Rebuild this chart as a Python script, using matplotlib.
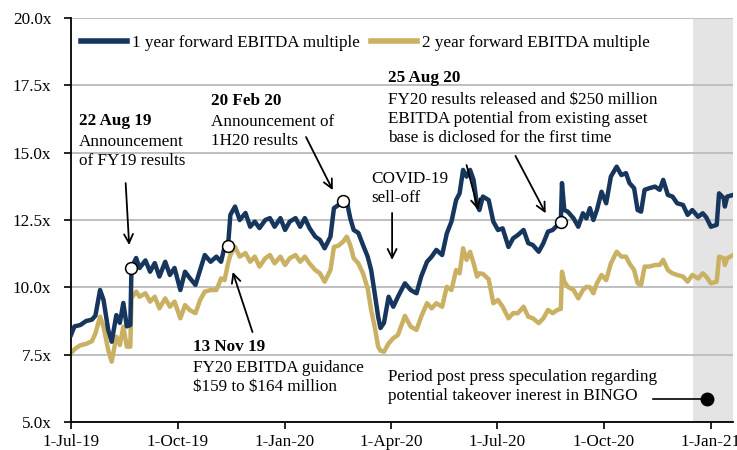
import datetime as dt

import matplotlib
matplotlib.use('Agg')
import matplotlib.pyplot as plt
import matplotlib.dates as mdates
from matplotlib.ticker import FixedLocator, FuncFormatter

plt.rcParams['font.family'] = ['Liberation Serif', 'DejaVu Serif']

# Days since 1-Jul-19
START = dt.date(2019, 7, 1)
day_offsets = [
    0, 3, 8, 13, 18, 21, 25, 28, 32, 35, 39, 42, 45, 48, 51, 52, 56, 59, 64, 68,
    72, 76, 81, 85, 89, 94, 98, 102, 107, 111, 115, 120, 125, 129, 132, 135, 137,
    141, 145, 150, 154, 158, 162, 167, 171, 175, 180, 184, 188, 193, 197, 201,
    205, 210, 214, 218, 223, 226, 230, 234, 237, 240, 243, 247, 251, 255, 258,
    261, 264, 266, 269, 273, 277, 281, 287, 292, 297, 301, 306, 310, 314, 319,
    323, 327, 331, 334, 337, 340, 343, 346, 349, 351, 354, 359, 363, 367, 371,
    376, 380, 384, 389, 393, 397, 402, 406, 410, 414, 418, 421, 422, 424, 427,
    432, 436, 440, 443, 446, 449, 452, 456, 460, 464, 469, 473, 477, 480, 484,
    487, 490, 493, 497, 502, 506, 509, 513, 517, 521, 526, 530, 534, 539, 543,
    546, 550, 555, 557, 561, 562, 564, 569,
]

one_year = [
    8.23, 8.55, 8.60, 8.75, 8.80, 8.95, 9.90, 9.53, 8.42, 7.98, 8.97, 8.68, 9.42,
    8.55, 8.60, 10.72, 11.09, 10.72, 11.00, 10.58, 10.90, 10.40, 10.95, 10.46,
    10.72, 9.90, 10.58, 10.35, 10.09, 10.64, 11.20, 10.95, 11.14, 10.95, 11.50,
    11.54, 12.69, 13.00, 12.50, 12.76, 12.25, 12.44, 12.20, 12.50, 12.57, 12.25,
    12.57, 12.13, 12.44, 12.57, 12.25, 12.57, 12.20, 11.88, 11.76, 11.45, 11.88,
    12.94, 13.06, 13.22, 13.20, 12.57, 12.13, 12.02, 11.57, 11.14, 10.64, 9.79,
    8.91, 8.49, 8.68, 9.65, 9.28, 9.65, 10.15, 9.90, 9.78, 10.40, 10.95, 11.14,
    11.39, 11.20, 12.00, 12.44, 13.24, 13.49, 14.36, 14.11, 14.36, 13.99, 13.06,
    12.87, 13.37, 13.24, 12.44, 12.13, 12.19, 11.50, 11.82, 11.94, 12.13, 11.64,
    11.57, 11.32, 11.64, 12.07, 12.13, 12.30, 12.44, 13.87, 12.87, 12.81, 12.56,
    12.25, 12.75, 12.56, 12.94, 12.50, 12.87, 13.55, 13.12, 14.11, 14.48, 14.17,
    14.24, 13.87, 13.68, 12.87, 12.81, 13.62, 13.68, 13.74, 13.62, 13.99, 13.43,
    13.37, 13.12, 13.06, 12.69, 12.87, 12.62, 12.75, 12.60, 12.25, 12.32, 13.49,
    13.31, 13.00, 13.37, 13.43,
]

two_year = [
    7.55, 7.70, 7.85, 7.90, 8.00, 8.29, 8.91, 8.54, 7.67, 7.24, 8.17, 7.86, 8.54,
    7.80, 7.80, 9.60, 9.84, 9.65, 9.78, 9.47, 9.65, 9.22, 9.59, 9.28, 9.47, 8.85,
    9.34, 9.16, 9.04, 9.53, 9.84, 9.90, 9.90, 10.33, 10.27, 10.89, 11.20, 11.50,
    11.14, 11.27, 10.95, 11.14, 10.77, 11.08, 11.20, 10.89, 11.14, 10.83, 11.08,
    11.20, 10.95, 11.14, 10.89, 10.64, 10.52, 10.21, 10.64, 11.50, 11.55, 11.70,
    11.88, 11.57, 11.08, 10.89, 10.52, 9.96, 9.16, 8.54, 7.80, 7.65, 7.61, 7.92,
    8.11, 8.23, 8.94, 8.54, 8.42, 8.91, 9.41, 9.22, 9.41, 9.28, 10.02, 9.90,
    10.64, 10.52, 11.45, 11.02, 11.32, 10.90, 10.40, 10.52, 10.50, 10.30, 9.41,
    9.53, 9.28, 8.85, 9.04, 9.04, 9.28, 8.91, 8.85, 8.67, 8.85, 9.16, 9.04, 9.16,
    9.20, 10.58, 10.21, 10.02, 9.90, 9.59, 9.90, 10.02, 10.00, 9.78, 10.15, 10.46,
    10.27, 10.89, 11.32, 11.14, 11.14, 10.89, 10.64, 10.15, 10.09, 10.77, 10.77,
    10.83, 10.83, 11.02, 10.64, 10.52, 10.46, 10.40, 10.21, 10.46, 10.33, 10.52,
    10.40, 10.15, 10.21, 11.14, 11.08, 10.83, 11.08, 11.20,
]

# Event markers on the 1 year series
event_days = [52, 135, 234, 421]

NAVY = '#17365d'
GOLD = '#c9b062'
SHADE = '#e4e4e4'


def to_date(d):
    return START + dt.timedelta(days=d)


dates = [to_date(d) for d in day_offsets]

fig = plt.figure(figsize=(7.37, 4.5), dpi=100)
ax = fig.add_axes([0.0963, 0.0622, 0.8983, 0.8978])

ax.axvspan(to_date(535.5), to_date(569), color=SHADE, zorder=0, lw=0)

ax.plot(dates, one_year, color=NAVY, lw=3.2, zorder=3,
        solid_joinstyle='round', label='1 year forward EBITDA multiple')
ax.plot(dates, two_year, color=GOLD, lw=3.2, zorder=2,
        solid_joinstyle='round', label='2 year forward EBITDA multiple')

for d in event_days:
    v = one_year[day_offsets.index(d)]
    ax.plot(to_date(d), v, 'o', ms=8.5, mfc='white', mec='black', mew=1.1, zorder=5)

ax.set_xlim(to_date(0), to_date(569))
ax.set_ylim(5, 20)
ax.set_yticks([5, 7.5, 10, 12.5, 15, 17.5, 20])
ax.yaxis.set_major_formatter(FuncFormatter(lambda v, _: f'{v:.1f}x'))

tick_dates = [dt.date(2019, 7, 1), dt.date(2019, 10, 1), dt.date(2020, 1, 1),
              dt.date(2020, 4, 1), dt.date(2020, 7, 1), dt.date(2020, 10, 1),
              dt.date(2021, 1, 1)]
ax.xaxis.set_major_locator(FixedLocator(mdates.date2num(tick_dates)))
ax.xaxis.set_major_formatter(FuncFormatter(
    lambda x, _: (lambda d: f'{d.day}-{d:%b-%y}')(mdates.num2date(x))))

ax.yaxis.grid(True, color='#bfbfbf', lw=1.4, zorder=1)
ax.set_axisbelow(True)
for s in ['top', 'right']:
    ax.spines[s].set_visible(False)
for s in ['left', 'bottom']:
    ax.spines[s].set_linewidth(1.3)
ax.tick_params(axis='both', labelsize=12.3, length=5, width=1.2, direction='out')
ax.tick_params(axis='y', pad=9)

leg = ax.legend(loc='upper left', bbox_to_anchor=(0.005, 0.975), ncol=2,
                frameon=False, fontsize=12.3, handlelength=2.7, handletextpad=0.25,
                columnspacing=0.7, borderaxespad=0)
for h in leg.get_lines():
    h.set_linewidth(4)

FS = 12.3
LS = 1.25
arrow = dict(arrowstyle='->', color='black', lw=1.3, shrinkA=0, shrinkB=0,
             mutation_scale=16)

# 22 Aug 19
ax.text(0.012, 0.765, '22 Aug 19', transform=ax.transAxes, fontsize=FS,
        fontweight='bold', va='top')
ax.text(0.012, 0.712, 'Announcement\nof FY19 results', transform=ax.transAxes,
        fontsize=FS, va='top', linespacing=LS)
ax.annotate('', xy=(to_date(50.7), 11.57), xytext=(to_date(47.3), 13.87),
            arrowprops=arrow)

# 20 Feb 20
ax.text(0.2115, 0.815, '20 Feb 20', transform=ax.transAxes, fontsize=FS,
        fontweight='bold', va='top')
ax.text(0.2115, 0.762, 'Announcement of\n1H20 results', transform=ax.transAxes,
        fontsize=FS, va='top', linespacing=LS)
ax.annotate('', xy=(to_date(225.2), 13.61), xytext=(to_date(202.8), 15.58),
            arrowprops=arrow)

# 13 Nov 19
ax.text(0.184, 0.205, '13 Nov 19', transform=ax.transAxes, fontsize=FS,
        fontweight='bold', va='top')
ax.text(0.184, 0.153, 'FY20 EBITDA guidance\n\\$159 to \\$164 million',
        transform=ax.transAxes, fontsize=FS, va='top', linespacing=LS)
ax.annotate('', xy=(to_date(139.2), 10.57), xytext=(to_date(156.4), 8.34),
            arrowprops=arrow)

# COVID-19 sell-off
ax.text(0.453, 0.622, 'COVID-19\nsell-off', transform=ax.transAxes, fontsize=FS,
        va='top', linespacing=LS)
ax.annotate('', xy=(to_date(276.7), 11.02), xytext=(to_date(276.7), 12.76),
            arrowprops=arrow)

# 25 Aug 20
ax.text(0.479, 0.872, '25 Aug 20', transform=ax.transAxes, fontsize=FS,
        fontweight='bold', va='top')
ax.text(0.479, 0.818, 'FY20 results released and \\$250 million\n'
        'EBITDA potential from existing asset\nbase is diclosed for the first time',
        transform=ax.transAxes, fontsize=FS, va='top', linespacing=LS)
ax.annotate('', xy=(to_date(408.7), 12.75), xytext=(to_date(382.2), 14.88),
            arrowprops=arrow)
ax.annotate('', xy=(to_date(350), 12.87), xytext=(to_date(340.1), 14.54),
            arrowprops=arrow)

# takeover speculation period
ax.text(0.479, 0.132, 'Period post press speculation regarding\n'
        'potential takeover inerest in BINGO', transform=ax.transAxes,
        fontsize=FS, va='top', linespacing=LS)
ax.plot([to_date(500), to_date(547)], [5.85, 5.85], color='black', lw=1.2, zorder=4)
ax.plot(to_date(547), 5.85, 'o', color='black', ms=9, zorder=5)

fig.savefig('out.png', dpi=100, facecolor='white')
